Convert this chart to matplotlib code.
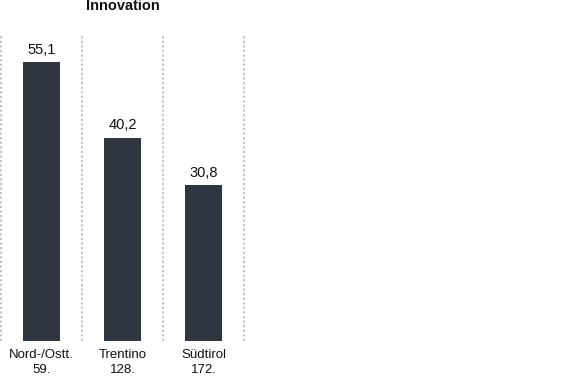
import matplotlib
matplotlib.use("Agg")
import matplotlib.pyplot as plt

# data
regions = ["Nord-/Ostt.", "Trentino", "Südtirol"]
ranks = ["59.", "128.", "172."]
values = [55.1, 40.2, 30.8]

plt.rcParams['font.family'] = ['Liberation Sans', 'DejaVu Sans']

fig = plt.figure(figsize=(5.62, 3.77), dpi=100)
# axes spans pixel x 1..244, y 36..341 (from top)
W, H = 562, 377
ax = fig.add_axes([1 / W, (H - 341) / H, 243 / W, 305 / H])

x = list(range(len(regions)))
ax.bar(x, values, width=0.455, color="#2f3541", zorder=2)
ax.set_xlim(-0.5, len(regions) - 0.5)
ax.set_ylim(0, 60.3)

# dotted column separators
for sep in [i - 0.5 for i in range(len(regions) + 1)]:
    ax.axvline(sep, color="#b4b4b4", linestyle=(0, (1.5, 1.5)), lw=1.1,
               zorder=1, clip_on=False)

# value labels
for xi, v in zip(x, values):
    ax.annotate(f"{v:.1f}".replace(".", ","), (xi, v), xytext=(0, 4),
                textcoords="offset points", ha="center", va="bottom",
                fontsize=10.5, color="#111111")

# category labels
ax.set_xticks(x)
ax.set_xticklabels([f"{r}\n{k}" for r, k in zip(regions, ranks)],
                   fontsize=9.5, color="#111111", linespacing=1.3)
ax.tick_params(axis="x", length=0, pad=6)
ax.set_yticks([])
for s in ax.spines.values():
    s.set_visible(False)

fig.text(122.5 / W, 1 - 6 / H, "Innovation", ha="center", va="center",
         fontsize=10.5, fontweight="bold", color="#111111")

fig.savefig("out.png", dpi=100)
